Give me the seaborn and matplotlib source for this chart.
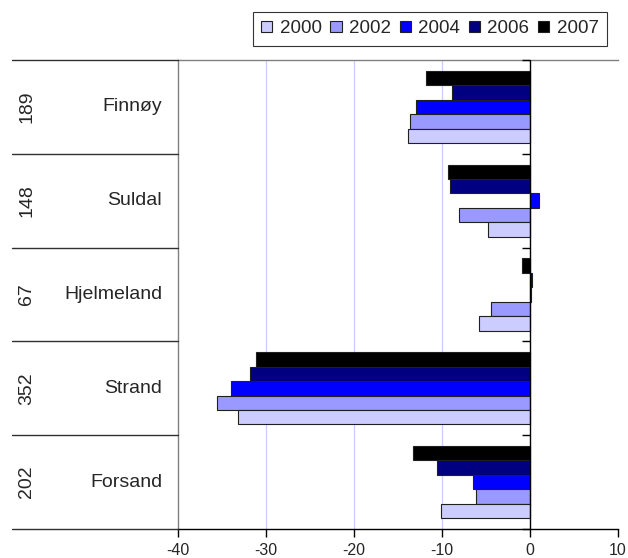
import matplotlib
matplotlib.use('Agg')
import matplotlib.pyplot as plt
import seaborn as sns
import pandas as pd
import numpy as np
from matplotlib import transforms
from matplotlib.lines import Line2D
from matplotlib.patches import Patch

categories = ['Finnøy', 'Suldal', 'Hjelmeland', 'Strand', 'Forsand']
counts = ['189', '148', '67', '352', '202']
years = ['2000', '2002', '2004', '2006', '2007']
v2000 = [-13.85, -4.75, -5.75, -33.2, -10.05]
v2002 = [-13.55, -8.05, -4.4, -35.6, -6.1]
v2004 = [-12.9, 1.05, 0.15, -33.95, -6.4]
v2006 = [-8.85, -9.0, 0.3, -31.8, -10.5]
v2007 = [-11.8, -9.3, -0.85, -31.1, -13.25]
colors = ['#CCCCFF', '#9999FF', '#0000FF', '#000080', '#000000']
xticks = [-40, -30, -20, -10, 0, 10]

sns.set_style('white')
plt.rcParams['font.family'] = ['Liberation Sans', 'DejaVu Sans']

df = pd.DataFrame({
    'Kommune': categories * 5,
    'År': np.repeat(years, len(categories)),
    'Endring': v2000 + v2002 + v2004 + v2006 + v2007,
})
palette = dict(zip(years, colors))

W, H = 628, 558
fig = plt.figure(figsize=(W / 100, H / 100), dpi=100)
x0, x1, ytop, ybot = 178, 617.5, 60, 529
ax = fig.add_axes([x0 / W, 1 - ybot / H, (x1 - x0) / W, (ybot - ytop) / H])

sns.barplot(data=df, y='Kommune', x='Endring', hue='År', hue_order=years[::-1],
            order=categories, palette=palette, saturation=1, orient='h', width=0.77,
            errorbar=None, edgecolor='#202020', linewidth=0.8, ax=ax,
            legend=False, zorder=3)

ax.set_xlim(-40, 10)
ax.set_ylim(len(categories) - 0.5, -0.5)
ax.set_xticks(xticks)
ax.set_xticklabels([str(t) for t in xticks])
ax.set_yticks([])
ax.set_xlabel('')
ax.set_ylabel('')
ax.tick_params(axis='x', direction='out', length=6, width=1, color='black',
               labelsize=11.5, pad=4, bottom=True)

for g in [-30, -20, -10]:
    ax.axvline(g, color='#CCCCFF', lw=0.9, zorder=1)

ax.spines['right'].set_visible(False)
ax.spines['top'].set_color('#808080')
ax.spines['left'].set_color('#808080')
ax.spines['bottom'].set_color('black')
for s in ['top', 'left', 'bottom']:
    ax.spines[s].set_linewidth(1)

# vertical axis crossing at zero, with outward tick marks at category boundaries
boundaries = np.arange(-0.5, len(categories), 1.0)
ax.axvline(0, color='black', lw=1, zorder=5)
ax.plot(np.zeros(len(boundaries)), boundaries, linestyle='none', marker=0,
        markersize=6, markeredgewidth=1, color='black', clip_on=False, zorder=5)

# left table-like labels
blend = transforms.blended_transform_factory(fig.transFigure, ax.transData)
for b in boundaries:
    fig.add_artist(Line2D([12 / W, x0 / W], [b, b], transform=blend,
                          color='#303030', lw=1, clip_on=False))
for i, (name, cnt) in enumerate(zip(categories, counts)):
    ax.text(162 / W, i, name, transform=blend, ha='right', va='center',
            fontsize=14, clip_on=False)
    ax.text(27 / W, i, cnt, transform=blend, ha='center', va='center',
            rotation=90, fontsize=14, clip_on=False)

handles = [Patch(facecolor=palette[y], edgecolor='#202020', linewidth=0.8, label=y)
           for y in years]
leg = fig.legend(handles=handles, loc='upper right',
                 bbox_to_anchor=(607 / W, 1 - 11.7 / H), ncol=5, fontsize=13.5,
                 frameon=True, fancybox=False, edgecolor='black',
                 handlelength=0.6, handleheight=0.6, handletextpad=0.4,
                 columnspacing=0.45, borderpad=0.45, borderaxespad=0)
leg.get_frame().set_linewidth(0.8)

fig.savefig('out.png', dpi=100)
